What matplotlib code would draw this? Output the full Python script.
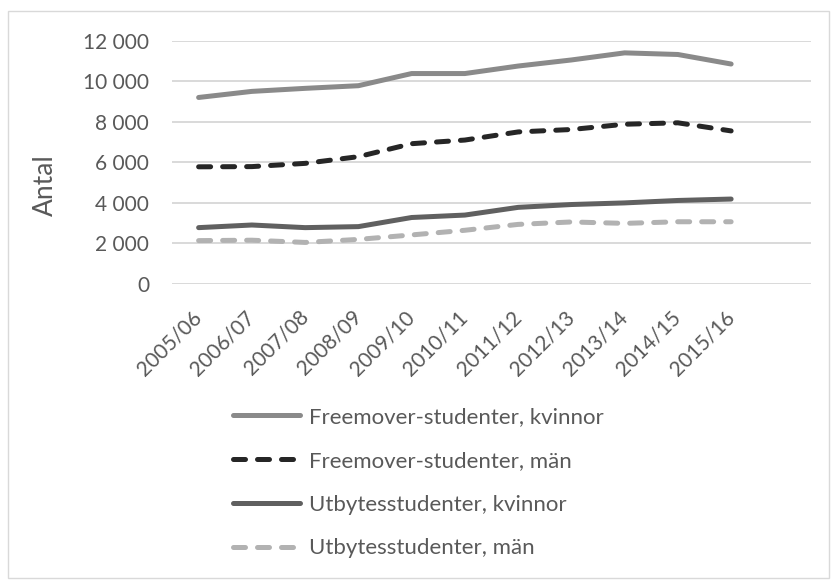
import matplotlib
matplotlib.use("Agg")
import matplotlib.pyplot as plt
from matplotlib.patches import Rectangle
from matplotlib.ticker import FuncFormatter

plt.rcParams['font.family'] = ['Lato', 'DejaVu Sans']

years = ["2005/06", "2006/07", "2007/08", "2008/09", "2009/10", "2010/11",
         "2011/12", "2012/13", "2013/14", "2014/15", "2015/16"]
free_kvinnor = [9200, 9500, 9650, 9780, 10380, 10380, 10750, 11050, 11400, 11320, 10850]
free_man = [5780, 5790, 5950, 6280, 6920, 7100, 7500, 7620, 7880, 7950, 7550]
utb_kvinnor = [2780, 2910, 2780, 2830, 3280, 3400, 3780, 3920, 4000, 4120, 4190]
utb_man = [2140, 2160, 2050, 2200, 2420, 2650, 2940, 3060, 2990, 3070, 3070]

txt = "#595959"

fig = plt.figure(figsize=(8.31, 5.80), dpi=100)
ax = fig.add_axes([172 / 831, 1 - 284 / 580, (811 - 172) / 831, (284 - 40.7) / 580])

x = range(len(years))
lw = 3.6
dash = (2.4, 2.4)
ax.plot(x, free_kvinnor, color="#8a8a8a", lw=lw, solid_capstyle="round",
        solid_joinstyle="round", label="Freemover-studenter, kvinnor")
ax.plot(x, free_man, color="#262626", lw=lw, dashes=dash, dash_capstyle="round",
        dash_joinstyle="round", label="Freemover-studenter, män")
ax.plot(x, utb_kvinnor, color="#606060", lw=lw, solid_capstyle="round",
        solid_joinstyle="round", label="Utbytesstudenter, kvinnor")
ax.plot(x, utb_man, color="#b2b2b2", lw=lw, dashes=dash, dash_capstyle="round",
        dash_joinstyle="round", label="Utbytesstudenter, män")

ax.set_xlim(-0.5, 11.5)
ax.set_ylim(0, 12000)
ax.set_yticks(range(0, 12001, 2000))
ax.yaxis.set_major_formatter(FuncFormatter(lambda v, p: f"{int(v):,}".replace(",", " ")))
ax.set_xticks(list(x))
ax.set_xticklabels(years, rotation=45, ha="right", va="center", rotation_mode="anchor")
ax.tick_params(length=0, colors=txt, labelsize=15)
ax.tick_params(axis="x", pad=21.5)
ax.tick_params(axis="y", pad=16.5)
ax.grid(axis="y", color="#d9d9d9", lw=1.4)
ax.set_axisbelow(True)
for s in ax.spines.values():
    s.set_visible(False)

fig.text(45 / 831, 1 - 185 / 580, "Antal", rotation=90, color=txt, fontsize=19,
         ha="center", va="center")

fig.legend(loc="upper left", bbox_to_anchor=(233 / 831, 1 - 407 / 580), frameon=False,
           ncol=1, fontsize=16, handlelength=3.0, handletextpad=0.42, labelspacing=1.07,
           borderpad=0, borderaxespad=0, labelcolor=txt)

fig.patches.append(Rectangle((8 / 831, 2 / 580), 821 / 831, 567 / 580, transform=fig.transFigure,
                             fill=False, edgecolor="#d9d9d9", lw=1))

fig.savefig("out.png", dpi=100)
